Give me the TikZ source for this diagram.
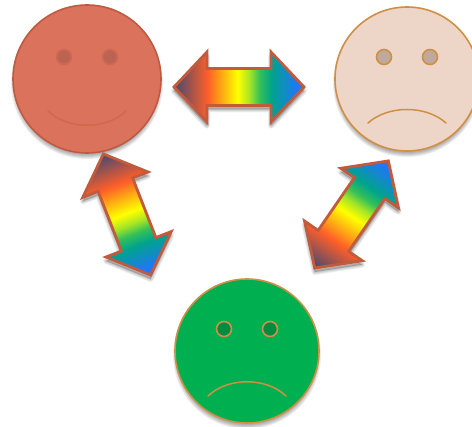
\documentclass[tikz,border=0pt]{standalone}
\definecolor{arrowline}{HTML}{C25A3C}
\definecolor{redfill}{HTML}{DA725C}
\definecolor{redline}{HTML}{BE5A42}
\definecolor{redeye}{HTML}{BC6352}
\definecolor{redring}{HTML}{CC6A55}
\definecolor{redmouth}{HTML}{D2684C}
\definecolor{peachfill}{HTML}{EDD6C7}
\definecolor{goldline}{HTML}{D08F45}
\definecolor{peacheye}{HTML}{BFA99B}
\definecolor{greenfill}{HTML}{00AF50}
\definecolor{greeneye}{HTML}{008C40}
\pgfdeclarehorizontalshading{rainbowbar}{100bp}{
  rgb(0bp)=(0.33,0.29,0.42);
  rgb(26bp)=(0.33,0.29,0.42);
  rgb(38bp)=(1,0.37,0.16);
  rgb(43bp)=(1,0.65,0.08);
  rgb(49.5bp)=(1,1,0);
  rgb(54bp)=(0.65,0.90,0.15);
  rgb(58bp)=(0.20,0.75,0.35);
  rgb(62.5bp)=(0,0.64,0.55);
  rgb(72bp)=(0.12,0.47,0.96);
  rgb(100bp)=(0.12,0.47,0.96)}
\tikzset{
  x=1pt,y=-1pt,
  face/.style={circle,draw,line width=1.6pt,inner sep=0pt,outer sep=0pt,minimum size=#1},
  eye/.style={circle,draw,line width=1.6pt,inner sep=0pt,outer sep=0pt,minimum size=15pt},
  mouth/.style={line width=1.5pt,line cap=round},
}
\newcommand{\barshape}{(-65,0) -- (-32,-35) -- (-32,-18.5) -- (32,-18.5) -- (32,-35) -- (65,0) -- (32,35) -- (32,18.5) -- (-32,18.5) -- (-32,35) -- cycle}
% centre x, centre y, angle
\newcommand{\rainbowarrow}[3]{%
  \foreach \w in {6,4.5,3,1.5}{%
    \begin{scope}[transform canvas={shift={(#1,#2+4)},rotate=#3}]
      \draw[black,opacity=0.06,fill=black,fill opacity=0.06,line width=\w pt,line join=round] \barshape;
    \end{scope}}%
  \begin{scope}[transform canvas={shift={(#1,#2)},rotate=#3}]
    \shade[shading=rainbowbar] \barshape;
    \draw[arrowline,line width=2.8pt,line join=miter] \barshape;
  \end{scope}}
\newcommand{\softshadow}[3]{%
  \foreach \d in {2,1,0,-1,-2}{%
    \fill[black,opacity=0.07] (#1,#2+4) circle[radius=#3+\d];}}
\begin{document}
\begin{tikzpicture}
\useasboundingbox (0,0) rectangle (472,427);
\softshadow{87}{79}{74}
\softshadow{407}{79}{72}
\softshadow{247}{351}{72}
\node[face=148pt,draw=redline,fill=redfill] (f1) at (87,79) {};
\node[eye,draw=redring,fill=redeye] (f1l) at (64,57) {};
\node[eye,draw=redring,fill=redeye] (f1r) at (110,57) {};
\draw[mouth,redmouth] (48,111) .. controls (68,130) and (106,130) .. (126,111);
\node[face=144pt,draw=goldline,fill=peachfill] (f2) at (407,79) {};
\node[eye,draw=goldline,fill=peacheye] (f2l) at (384,57) {};
\node[eye,draw=goldline,fill=peacheye] (f2r) at (430,57) {};
\draw[mouth,goldline] (368,123) .. controls (388,105) and (426,105) .. (446,123);
\node[face=144pt,draw=goldline,fill=greenfill] (f3) at (247,351) {};
\node[eye,draw=goldline,fill=greeneye] (f3l) at (224,329) {};
\node[eye,draw=goldline,fill=greeneye] (f3r) at (270,329) {};
\draw[mouth,goldline] (208,396) .. controls (228,377) and (266,377) .. (286,396);
\rainbowarrow{239}{87}{0}
\rainbowarrow{127}{214.5}{-68.7}
\rainbowarrow{351.5}{214.5}{55.5}
\end{tikzpicture}
\end{document}
